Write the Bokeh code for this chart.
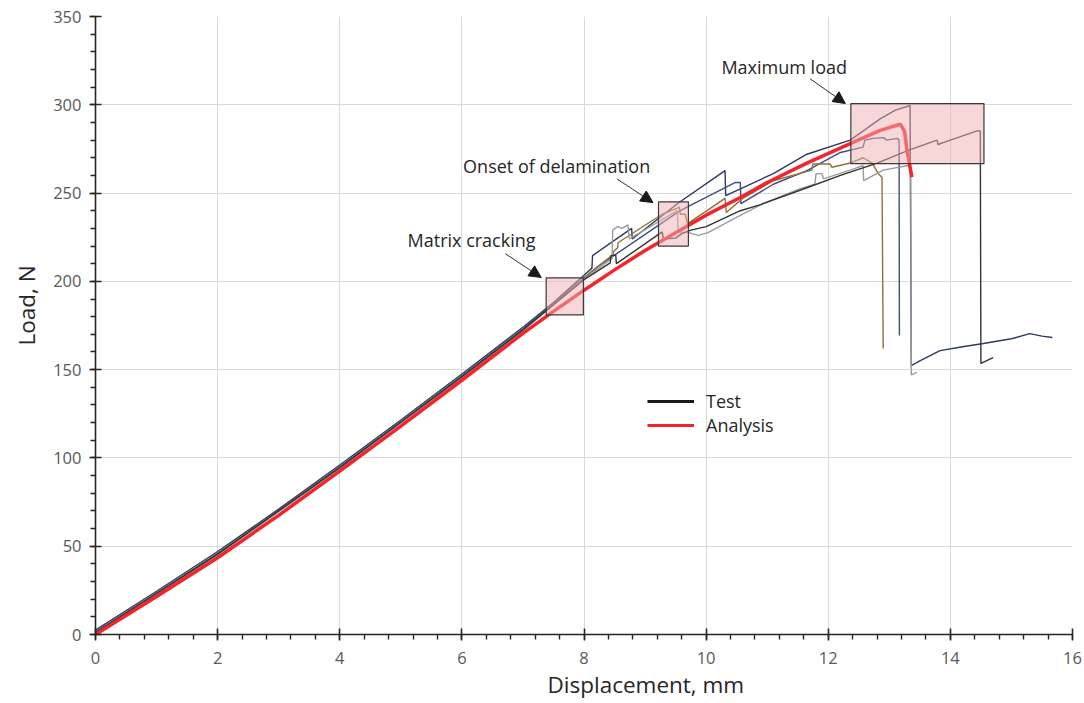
from bokeh.plotting import figure
from bokeh.models import (Range1d, SingleIntervalTicker, BoxAnnotation, Arrow, NormalHead,
                          Label, Title, Legend, LegendItem)
from bokeh.embed import file_html
from bokeh.resources import INLINE

# ---------------- data (displacement mm, load N) ----------------
analysis_x = [0, 1, 2, 3, 4, 5, 6, 7, 7.5, 8.0, 8.5, 9.0, 9.5, 10.0, 10.56, 11.0, 11.65, 12.36, 12.85, 13.18, 13.25, 13.29, 13.37]
analysis_y = [0, 21.5, 43.5, 67.5, 92.5, 118, 144, 170.5, 183, 195, 206.5, 217.5, 227.5, 237.5, 247.5, 256, 267, 278, 285.5, 289, 285, 274, 259]

testA_x = [0, 1, 2, 3, 4, 5, 6, 7, 7.5, 8.0, 8.13, 8.14, 8.78, 8.79, 9.55, 10.31, 10.32, 11.1, 11.65, 12.36, 12.85, 13.1, 13.34, 13.36,
           13.5, 13.83, 14.2, 14.54, 15.0, 15.3, 15.5, 15.67]
testA_y = [2.5, 24.5, 47, 71, 96, 121.5, 147.5, 174, 188, 203.5, 207.5, 214.6, 230, 224, 244.5, 262.7, 248.6, 261, 272, 280, 292, 297, 299.6, 152.3,
           155, 160.8, 163, 164.8, 167.5, 170.4, 169, 168.2]

testB_x = [0, 1, 2, 3, 4, 5, 6, 7, 8, 8.23, 9.55, 9.71, 10.48, 10.56, 10.57, 11.1, 11.65, 12.2, 12.57, 12.6, 12.74, 12.9, 12.96, 13.13, 13.16, 13.165]
testB_y = [1.5, 23.5, 46, 70, 95, 120.5, 146.5, 173, 202, 208.5, 239.5, 242.5, 256, 256, 244, 255, 262.7, 273, 276, 280, 281, 281.4, 280, 281, 280, 169.3]

testC_x = [0, 2, 4, 6, 7, 8.0, 8.07, 8.47, 8.49, 8.55, 8.56, 9.28, 9.53, 9.56, 9.58, 9.66, 9.69, 9.71, 10.31, 10.33, 10.6, 11.1, 11.73, 11.75, 12.03, 12.06,
           12.36, 12.57, 12.72, 12.82, 12.88, 12.9]
testC_y = [1, 45.5, 94.5, 146, 172.5, 201.5, 204, 215, 217, 219, 222, 238, 241.5, 242, 238, 238, 233, 233, 247, 239, 247, 257, 263, 266.5, 266.5, 264.6,
           267, 270, 267, 261, 259, 162]

testD_x = [0, 2, 4, 6, 7, 8.0, 8.46, 8.47, 8.55, 8.62, 8.72, 8.74, 9.53, 9.54, 9.71, 9.87, 10.03, 10.59, 10.97, 11.54, 11.78, 11.8, 11.9, 11.92, 12.36,
           12.57, 12.58, 12.9, 13.31, 13.35, 13.36, 13.45]
testD_y = [0.5, 45, 94, 145.5, 172, 201.5, 213, 229, 231, 230, 232, 224, 240, 228, 227.6, 226, 227.6, 238, 244.6, 252.5, 255, 261, 261, 258, 263,
           265.6, 257, 263, 265.6, 265, 147, 148.5]

testE_x = [0, 2, 4, 6, 7, 8, 8.43, 8.44, 8.52, 8.53, 9.28, 9.3, 9.5, 9.6, 9.75, 10.0, 10.56, 10.89, 11.65, 12.2, 12.8, 13.3, 13.78, 13.8, 13.88,
           14.45, 14.49, 14.5, 14.7]
testE_y = [1, 45.5, 94.5, 146, 172.5, 201, 210.5, 214.5, 215, 210, 228, 224, 224.5, 227, 229, 231, 240, 243.5, 253, 260, 267, 274, 280, 277.5, 278.6,
           285.4, 285, 153.5, 156.8]

# highlighted regions: (left, right, bottom, top)
box_left = [7.38, 9.22, 12.37]
box_right = [7.99, 9.71, 14.55]
box_bottom = [181, 220, 266.7]
box_top = [202, 245, 300.7]

# annotations
note_text = ["Matrix cracking", "Onset of delamination", "Maximum load"]
note_x = [5.11, 6.02, 10.25]
note_y = [223.7, 265.6, 321.6]
arrow_x0 = [6.71, 8.54, 11.70]
arrow_y0 = [215.7, 258.0, 314.8]
arrow_x1 = [7.30, 9.13, 12.28]
arrow_y1 = [202.2, 244.6, 300.7]

legend_labels = ["Test", "Analysis"]

x_ticks_interval = 2
y_ticks_interval = 50

FONT = "Open Sans"
NAN = float("nan")

p = figure(width=1084, height=703, x_range=Range1d(0, 16), y_range=Range1d(0, 350),
           output_backend="svg", toolbar_location=None, title=None,
           min_border_left=95, min_border_right=12, min_border_top=16, min_border_bottom=69)
p.background_fill_color = "white"
p.border_fill_color = "white"
p.outline_line_color = None

p.xaxis.ticker = SingleIntervalTicker(interval=x_ticks_interval, num_minor_ticks=5)
p.yaxis.ticker = SingleIntervalTicker(interval=y_ticks_interval, num_minor_ticks=5)
p.xgrid.ticker = p.xaxis.ticker
p.ygrid.ticker = p.yaxis.ticker
for g in (p.xgrid, p.ygrid):
    g.grid_line_color = "#D9D9D9"
    g.grid_line_width = 1

for ax in (p.xaxis, p.yaxis):
    ax.axis_line_color = "#262626"
    ax.axis_line_width = 1.6
    ax.major_tick_line_color = "#262626"
    ax.major_tick_line_width = 1.6
    ax.minor_tick_line_color = "#262626"
    ax.minor_tick_line_width = 1.4
    ax.major_tick_in = 6
    ax.major_tick_out = 6
    ax.minor_tick_in = 0
    ax.minor_tick_out = 5
    ax.major_label_text_font = FONT
    ax.major_label_text_font_size = "16.5px"
    ax.major_label_text_color = "#595959"
p.yaxis.major_label_standoff = 8
p.xaxis.major_label_standoff = 11

# test curves
test_colors = ["#2C3A5E", "#3B4D86", "#8D7236", "#9B9B9B", "#333333"]
test_xs = [testA_x, testB_x, testC_x, testD_x, testE_x]
test_ys = [testA_y, testB_y, testC_y, testD_y, testE_y]
for xs, ys, c in zip(test_xs, test_ys, test_colors):
    p.line(xs, ys, line_color=c, line_width=1.4)

# analysis curve
p.line(analysis_x, analysis_y, line_color="#F5242A", line_width=3.5)

# highlight boxes
for l, r, b, t in zip(box_left, box_right, box_bottom, box_top):
    p.add_layout(BoxAnnotation(left=l, right=r, bottom=b, top=t,
                               fill_color="#F0AFAF", fill_alpha=0.5,
                               line_color="#3A3A3A", line_width=1.2, line_alpha=1))

# arrows and labels
for x0, y0, x1, y1 in zip(arrow_x0, arrow_y0, arrow_x1, arrow_y1):
    p.add_layout(Arrow(end=NormalHead(size=12, fill_color="#1A1A1A", line_color="#1A1A1A", line_width=1),
                       x_start=x0, y_start=y0, x_end=x1, y_end=y1,
                       line_color="#333333", line_width=1))
for t, x, y in zip(note_text, note_x, note_y):
    p.add_layout(Label(x=x, y=y, text=t, text_font=FONT, text_font_size="18px",
                       text_color="#262626", text_baseline="middle", text_align="left"))

# legend (style samples, not drawn in the plot area)
r_test = p.line([NAN], [NAN], line_color="#1A1A1A", line_width=3)
r_ana = p.line([NAN], [NAN], line_color="#F5242A", line_width=3)
legend = Legend(items=[LegendItem(label=legend_labels[0], renderers=[r_test], index=0),
                       LegendItem(label=legend_labels[1], renderers=[r_ana], index=0)],
                location=(552, 197), glyph_width=47, glyph_height=20, label_height=20,
                label_standoff=12, spacing=0, padding=0, margin=0,
                border_line_color=None, background_fill_alpha=0,
                label_text_font=FONT, label_text_font_size="18px", label_text_color="#262626")
p.add_layout(legend, "center")

# axis titles
p.add_layout(Title(text="Displacement, mm", align="left", offset=452, text_font=FONT,
                   text_font_size="22.5px", text_font_style="normal", text_color="#262626",
                   standoff=0), "below")
p.add_layout(Title(text="Load, N", align="left", offset=289, text_font=FONT,
                   text_font_size="22.5px", text_font_style="normal", text_color="#262626",
                   standoff=17), "left")

open("out.html", "w").write(file_html(p, INLINE))
